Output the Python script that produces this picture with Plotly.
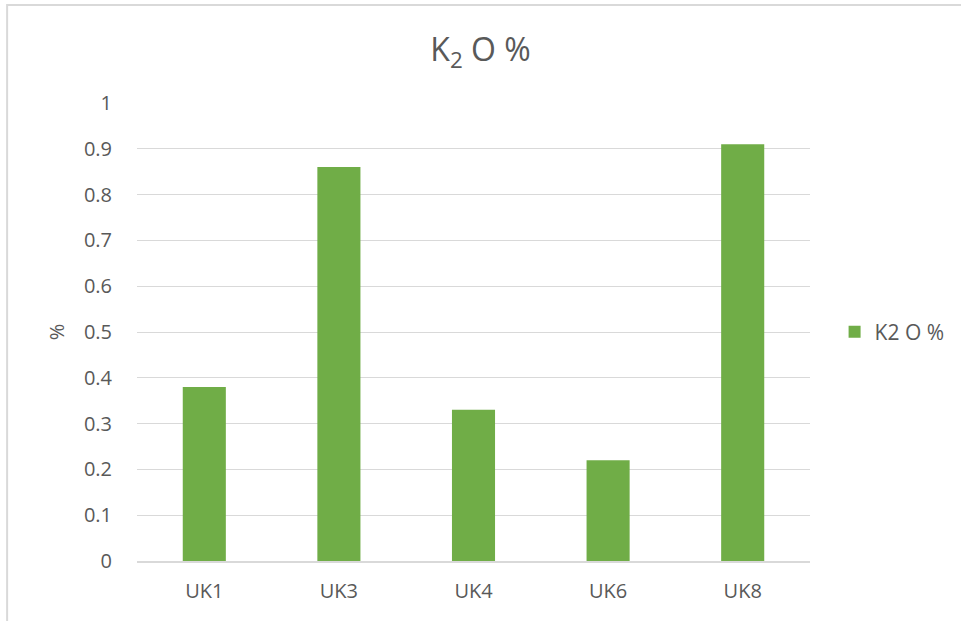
import plotly.graph_objects as go

categories = ["UK1", "UK3", "UK4", "UK6", "UK8"]
k2o_values = [0.38, 0.86, 0.33, 0.22, 0.91]
series_name = "K2 O %"
y_ticks = [0, 0.1, 0.2, 0.3, 0.4, 0.5, 0.6, 0.7, 0.8, 0.9, 1]
y_tick_labels = ["0", "0.1", "0.2", "0.3", "0.4", "0.5", "0.6", "0.7", "0.8", "0.9", "1"]

FONT = "Open Sans, sans-serif"
TEXT = "#595959"
GRID = "#d9d9d9"

fig = go.Figure()
fig.add_trace(go.Bar(
    x=categories,
    y=k2o_values,
    name=series_name,
    marker=dict(color="#70ad47", line=dict(width=0)),
    showlegend=True,
))

fig.update_layout(
    width=961,
    height=621,
    margin=dict(l=137, r=150, t=103, b=60),
    paper_bgcolor="white",
    plot_bgcolor="white",
    bargap=0.68,
    font=dict(family=FONT, color=TEXT, size=20),
    title=dict(
        text="K<sub>2</sub> O %",
        x=0.5,
        xanchor="center",
        y=0.92,
        yanchor="middle",
        font=dict(family=FONT, size=32, color=TEXT),
    ),
    legend=dict(
        x=1.035,
        y=0.5,
        xanchor="left",
        yanchor="middle",
        font=dict(family=FONT, size=21, color=TEXT),
        itemwidth=30,
    ),
    xaxis=dict(
        showgrid=False,
        showline=True,
        linecolor=GRID,
        linewidth=1.5,
        ticks="",
        ticklabelstandoff=11,
        tickfont=dict(family=FONT, size=20, color=TEXT),
    ),
    yaxis=dict(
        range=[0, 1],
        tickvals=y_ticks,
        ticktext=y_tick_labels,
        showgrid=True,
        gridcolor=GRID,
        gridwidth=1,
        zeroline=False,
        showline=False,
        ticks="",
        ticklabelstandoff=24,
        tickfont=dict(family=FONT, size=20, color=TEXT),
        title=dict(text="%", font=dict(family=FONT, size=20, color=TEXT), standoff=13),
    ),
    shapes=[
        dict(
            type="rect",
            xref="paper", yref="paper",
            x0=-0.193, x1=1.5, y0=-0.5, y1=1.214,
            line=dict(color=GRID, width=2),
            fillcolor="rgba(0,0,0,0)",
            layer="below",
        )
    ],
)

fig.write_html("out.html")
